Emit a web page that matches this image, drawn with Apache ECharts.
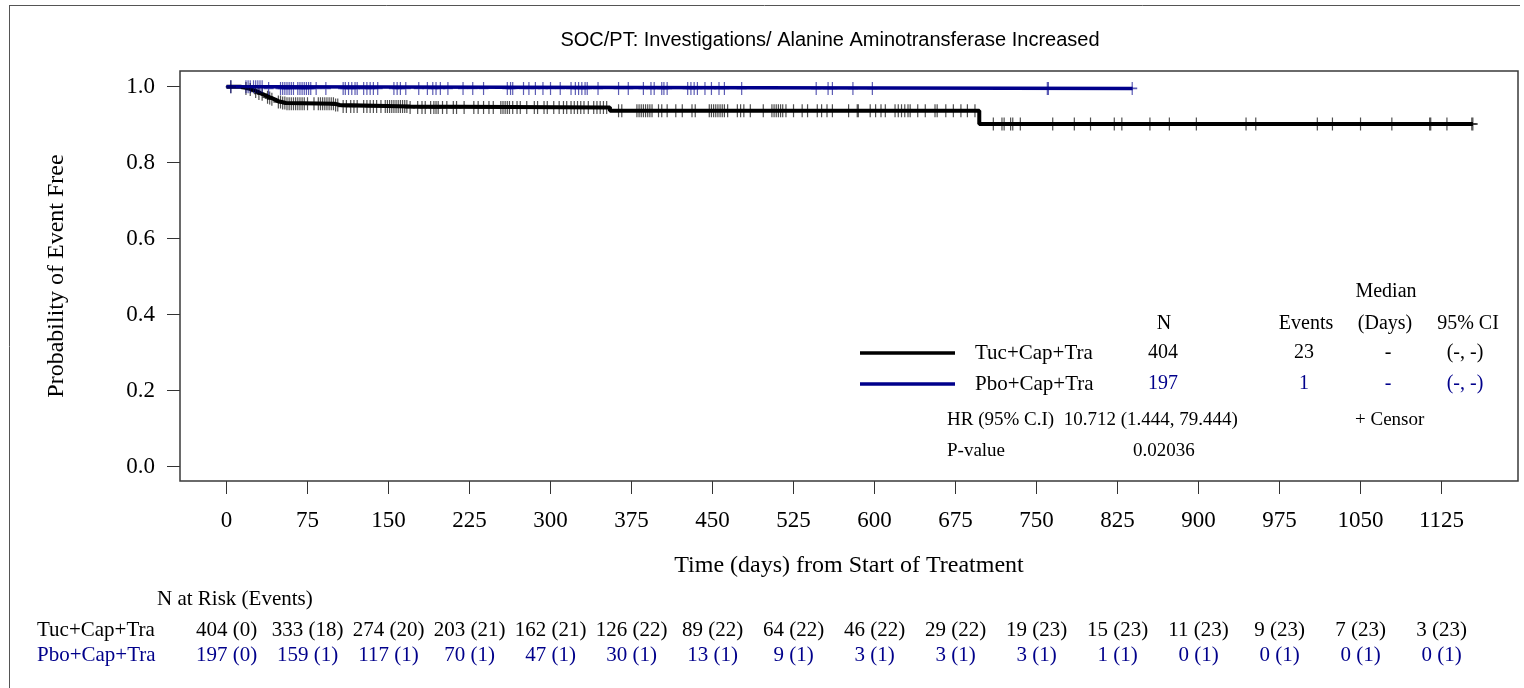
<!DOCTYPE html>
<html><head><meta charset="utf-8">
<script src="https://cdn.jsdelivr.net/npm/echarts@6/dist/echarts.min.js"></script>
<style>html,body{margin:0;padding:0;background:#fff}#c{width:1524px;height:688px}</style>
</head><body><div id="c"></div>
<script>
// ---------- data ----------
const chartTitle = 'SOC/PT: Investigations/ Alanine Aminotransferase Increased';
const xTitle = 'Time (days) from Start of Treatment';
const yTitle = 'Probability of Event Free';
const xTicks = [0, 75, 150, 225, 300, 375, 450, 525, 600, 675, 750, 825, 900, 975, 1050, 1125];
const yTicks = [0, 0.2, 0.4, 0.6, 0.8, 1.0];
const groups = ['Tuc+Cap+Tra', 'Pbo+Cap+Tra'];

// Kaplan-Meier step points (day, survival after the step)
const tucStepDays = [0, 13, 17, 21, 24, 26, 28, 30, 32, 34, 36, 38, 40, 42, 44, 46, 48, 51, 55, 100, 105, 170, 355, 697, 1154];
const tucStepSurv = [1.0, 0.9975, 0.995, 0.9925, 0.990, 0.9875, 0.985, 0.982, 0.980, 0.977, 0.975, 0.972, 0.970, 0.967, 0.965, 0.962, 0.960, 0.957, 0.955, 0.952, 0.948, 0.945, 0.937, 0.902, 0.902];
const pboStepDays = [0, 35, 839];
const pboStepSurv = [1.0, 0.9955, 0.9955];

// censor times (days)
const tucCensorDays = [4, 18, 22, 27, 30, 33, 38, 40, 42, 48, 50, 52, 54, 56, 58, 60, 62, 64, 66, 68, 70, 72, 75, 81, 85, 87, 89, 91, 93, 95, 97, 99, 101, 103, 108, 111, 115, 118, 121, 127, 130, 133, 136, 139, 143, 147, 149, 151, 153, 155, 157, 159, 161, 163, 165, 167, 170, 177, 181, 184, 189, 192, 194, 196, 200, 204, 210, 213, 220, 229, 233, 238, 243, 247, 254, 256, 258, 260, 262, 265, 269, 272, 278, 285, 288, 294, 297, 303, 308, 312, 315, 319, 322, 325, 328, 331, 335, 340, 343, 346, 349, 352, 363, 366, 380, 382, 384, 386, 388, 390, 392, 394, 400, 403, 408, 416, 422, 431, 434, 447, 449, 451, 453, 455, 457, 459, 461, 464, 473, 476, 479, 485, 497, 505, 507, 509, 511, 513, 515, 518, 525, 533, 538, 547, 551, 556, 561, 576, 584, 585, 596, 601, 606, 610, 619, 622, 625, 628, 631, 633, 640, 647, 656, 658, 666, 673, 680, 686, 693, 710, 718, 720, 726, 728, 735, 765, 785, 800, 822, 829, 855, 873, 898, 944, 953, 1010, 1024, 1050, 1079, 1114, 1115, 1130, 1153, 1154];
const pboCensorDays = [4, 18, 20, 22, 25, 27, 29, 31, 33, 39, 50, 52, 54, 56, 58, 60, 62, 66, 68, 70, 72, 74, 76, 78, 83, 92, 108, 110, 113, 116, 119, 121, 127, 130, 133, 136, 140, 155, 158, 161, 166, 178, 186, 191, 194, 198, 205, 219, 228, 238, 260, 263, 265, 275, 280, 286, 293, 300, 309, 319, 323, 326, 329, 332, 334, 344, 363, 372, 386, 393, 396, 403, 405, 408, 427, 430, 433, 436, 443, 449, 456, 461, 477, 546, 557, 561, 580, 598, 760, 761, 838.6];

// number at risk (cumulative events) at each x tick
const tucAtRisk = [404, 333, 274, 203, 162, 126, 89, 64, 46, 29, 19, 15, 11, 9, 7, 3];
const tucCumEvents = [0, 18, 20, 21, 21, 22, 22, 22, 22, 22, 23, 23, 23, 23, 23, 23];
const pboAtRisk = [197, 159, 117, 70, 47, 30, 13, 9, 3, 3, 3, 1, 0, 0, 0, 0];
const pboCumEvents = [0, 1, 1, 1, 1, 1, 1, 1, 1, 1, 1, 1, 1, 1, 1, 1];

// summary table
const summaryHeader1 = ['Median'];
const summaryHeader2 = ['N', 'Events', '(Days)', '95% CI'];
const tucSummary = ['404', '23', '-', '(-, -)'];
const pboSummary = ['197', '1', '-', '(-, -)'];
const hrLabel = 'HR (95% C.I)  10.712 (1.444, 79.444)';
const censorLabel = '+ Censor';
const pLabel = 'P-value';
const pValue = '0.02036';
const riskHeader = 'N at Risk (Events)';

// ---------- chart ----------
const BLACK = '#000000';
const BLUE = '#00008B';
const SERIF = '"Liberation Serif", "Times New Roman", serif';
const SANS = '"Liberation Sans", Arial, sans-serif';

function survAt(days, surv, t) {
  let s = surv[0];
  for (let i = 0; i < days.length; i++) { if (days[i] <= t) s = surv[i]; }
  return s;
}
const plus = 'path://M4.4,0h1.2v10h-1.2z M0,4.4h10v1.2h-10z';

const chart = echarts.init(document.getElementById('c'), null, { renderer: 'canvas' });

const option = {
  animation: false,
  backgroundColor: '#ffffff',
  grid: { left: 180, top: 71, right: 6, bottom: 207, containLabel: false },
  xAxis: {
    type: 'value', min: -43.06, max: 1195.8,
    axisLine: { show: false, onZero: false }, splitLine: { show: false },
    axisTick: { show: true, inside: false, customValues: xTicks, length: 13, lineStyle: { color: '#333', width: 1 } },
    axisLabel: { customValues: xTicks, margin: 28, fontFamily: SERIF, fontSize: 23, color: '#000',
      formatter: v => String(v) }
  },
  yAxis: {
    type: 'value', min: -0.0376, max: 1.0413,
    axisLine: { show: false, onZero: false }, splitLine: { show: false },
    axisTick: { show: true, inside: false, customValues: yTicks, length: 13, lineStyle: { color: '#333', width: 1 } },
    axisLabel: { customValues: yTicks, margin: 25, fontFamily: SERIF, fontSize: 23, color: '#000',
      formatter: v => v.toFixed(1) }
  },
  series: [
    { type: 'line', step: 'end', symbol: 'none', data: tucStepDays.map((d, i) => [d, tucStepSurv[i]]),
      lineStyle: { color: BLACK, width: 4 }, z: 3 },
    { type: 'line', step: 'end', symbol: 'none', data: pboStepDays.map((d, i) => [d, pboStepSurv[i]]),
      lineStyle: { color: BLUE, width: 3.5 }, z: 3 },
    { type: 'scatter', symbol: plus, symbolSize: [10, 13],
      data: tucCensorDays.map(d => [d, survAt(tucStepDays, tucStepSurv, d)]),
      itemStyle: { color: 'rgba(0,0,0,0.85)' }, z: 4 },
    { type: 'scatter', symbol: plus, symbolSize: [10, 13],
      data: pboCensorDays.map(d => [d, survAt(pboStepDays, pboStepSurv, d)]),
      itemStyle: { color: 'rgba(0,0,139,0.8)' }, z: 4 }
  ]
};
chart.setOption(option);

function txt(text, x, y, opts) {
  opts = opts || {};
  return {
    type: 'text', x: x, y: y, rotation: opts.rotation || 0, z: 10,
    style: { text: text, fill: opts.fill || '#000', font: (opts.size || 20) + 'px ' + (opts.family || SERIF),
      textAlign: opts.align || 'left', textVerticalAlign: 'middle' }
  };
}

const g = [];
// outer frame
g.push({ type: 'line', shape: { x1: 9, y1: 5.5, x2: 1520, y2: 5.5 }, style: { stroke: '#555', lineWidth: 1 } });
g.push({ type: 'line', shape: { x1: 9.5, y1: 5, x2: 9.5, y2: 688 }, style: { stroke: '#555', lineWidth: 1 } });
// plot box
g.push({ type: 'rect', shape: { x: 180, y: 71, width: 1338, height: 410 }, style: { fill: 'none', stroke: '#3a3a3a', lineWidth: 1.5 }, z: 5 });
// titles
g.push(txt(chartTitle, 830, 40, { family: SANS, size: 20, align: 'center' }));
g.push(txt(xTitle, 849, 566, { size: 24, align: 'center' }));
g.push(txt(yTitle, 57, 276, { size: 24, align: 'center', rotation: Math.PI / 2 }));

// summary legend
g.push(txt(summaryHeader1[0], 1386, 292, { align: 'center' }));
const colX = [1164, 1306, 1385, 1468];
summaryHeader2.forEach((h, i) => g.push(txt(h, colX[i], 324, { align: 'center' })));
g.push({ type: 'line', shape: { x1: 860, y1: 353, x2: 955, y2: 353 }, style: { stroke: BLACK, lineWidth: 3.5 } });
g.push({ type: 'line', shape: { x1: 860, y1: 384, x2: 955, y2: 384 }, style: { stroke: BLUE, lineWidth: 3.5 } });
g.push(txt(groups[0], 975, 353, { size: 21 }));
g.push(txt(groups[1], 975, 384, { size: 21 }));
const sumX = [1163, 1304, 1388, 1465];
tucSummary.forEach((v, i) => g.push(txt(v, sumX[i], 353, { align: 'center' })));
pboSummary.forEach((v, i) => g.push(txt(v, sumX[i], 384, { align: 'center', fill: BLUE })));
g.push(txt(hrLabel, 947, 420, { size: 19 }));
g.push(txt(censorLabel, 1355, 420, { size: 19 }));
g.push(txt(pLabel, 947, 451, { size: 19 }));
g.push(txt(pValue, 1133, 451, { size: 19 }));

// risk table
g.push(txt(riskHeader, 157, 599, { size: 21 }));
g.push(txt(groups[0], 37, 630, { size: 21 }));
g.push(txt(groups[1], 37, 655, { size: 21, fill: BLUE }));
xTicks.forEach((t, i) => {
  const px = chart.convertToPixel({ xAxisIndex: 0 }, t);
  g.push(txt(tucAtRisk[i] + ' (' + tucCumEvents[i] + ')', px, 630, { size: 21, align: 'center' }));
  g.push(txt(pboAtRisk[i] + ' (' + pboCumEvents[i] + ')', px, 655, { size: 21, align: 'center', fill: BLUE }));
});

chart.setOption({ graphic: { elements: g } });
</script>
</body></html>
